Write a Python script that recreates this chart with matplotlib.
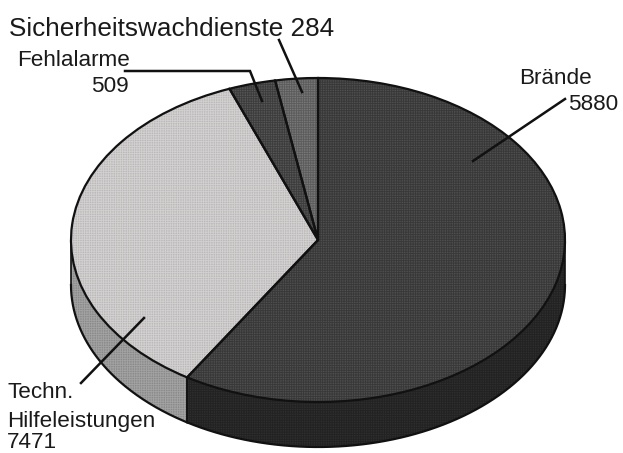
import numpy as np
import matplotlib
matplotlib.use("Agg")
import matplotlib.pyplot as plt

plt.rcParams['font.family'] = ['Liberation Sans', 'DejaVu Sans']
plt.rcParams['hatch.linewidth'] = 0.6

# slice sizes as drawn in the picture (degrees), clockwise from the top
categories = ["Brände", "Techn. Hilfeleistungen", "Fehlalarme", "Sicherheitswachdienste"]
drawn_degrees = [212, 127, 11, 10]
label_values = [5880, 7471, 509, 284]

top_colors = ["#4e4e4e", "#bdb9b9", "#565656", "#787878"]
hatch_colors = ["#383838", "#d2d0d0", "#3c3c3c", "#5c5c5c"]
wall_colors = ["#2e2e2e", "#8a8a8a", "#333333", "#555555"]
wall_hatch_colors = ["#222222", "#a2a2a2", "#222222", "#444444"]

W, H = 623, 453
CX, CY, RX, RY, DEPTH = 318, 240, 247, 162, 45


def main():
    fig = plt.figure(figsize=(W / 100, H / 100), dpi=100)

    # pie axes: unit circle squashed into the ellipse
    ax = fig.add_axes([0, 0, 1, 1])
    wedges, _ = ax.pie(drawn_degrees, startangle=90, counterclock=False, radius=1)
    ax.set_aspect('auto')
    ax.set_xlim(-CX / RX, (W - CX) / RX)
    ax.set_ylim((CY - H) / RY, CY / RY)
    ax.axis('off')

    # side wall, only the lower half of the rim is visible
    d = DEPTH / RY
    edges = 90 - np.cumsum([0] + drawn_degrees)
    for i in range(len(drawn_degrees)):
        hi, lo = min(edges[i], 0), max(edges[i + 1], -180)
        if hi <= lo:
            continue
        t = np.radians(np.linspace(lo, hi, 200))
        x, y = np.cos(t), np.sin(t)
        ax.fill_between(x, y - d, y, facecolor=wall_colors[i], hatch='+++++++',
                        edgecolor=wall_hatch_colors[i], linewidth=0, zorder=0.5)
        ax.plot(x, y - d, c='#111111', lw=1.6, zorder=0.6)
        ax.plot([x[0], x[0]], [y[0], y[0] - d], c='#111111', lw=1.2, zorder=0.6)
        ax.plot([x[-1], x[-1]], [y[-1], y[-1] - d], c='#111111', lw=1.2, zorder=0.6)

    for w, c, hc in zip(wedges, top_colors, hatch_colors):
        w.set_facecolor(c)
        w.set_edgecolor(hc)
        w.set_hatch('+++++++')
        w.set_linewidth(0)
        w.set_zorder(1)
        outline = plt.matplotlib.patches.Wedge(w.center, w.r, w.theta1, w.theta2, fill=False,
                                               edgecolor='#111111', linewidth=1.6, zorder=2)
        ax.add_patch(outline)

    # overlay in picture pixels for labels and leader lines
    ov = fig.add_axes([0, 0, 1, 1], facecolor='none')
    ov.set_xlim(0, W)
    ov.set_ylim(H, 0)
    ov.axis('off')

    leaders = [
        ([473, 565], [161, 99]),
        ([81, 144], [383, 318]),
        ([125, 250, 262], [71, 71, 101]),
        ([279, 302], [40, 92]),
    ]
    for xs, ys in leaders:
        ov.plot(xs, ys, c='#111111', lw=1.8, solid_joinstyle='miter')

    txt = dict(color='#1a1a1a', va='center')
    ov.text(9, 29, f"{categories[3]} {label_values[3]}", fontsize=18.8, ha='left', **txt)
    ov.text(17, 60, categories[2], fontsize=16.2, ha='left', **txt)
    ov.text(129, 86, str(label_values[2]), fontsize=16.2, ha='right', **txt)
    ov.text(519, 79, categories[0], fontsize=16.2, ha='left', **txt)
    ov.text(568, 105, str(label_values[0]), fontsize=16.2, ha='left', **txt)
    ov.text(7, 393, "Techn.", fontsize=16.2, ha='left', **txt)
    ov.text(7, 421, "Hilfeleistungen", fontsize=16.2, ha='left', **txt)
    ov.text(7, 443, str(label_values[1]), fontsize=16.2, ha='left', **txt)

    fig.savefig("out.png", dpi=100, facecolor='white')


if __name__ == "__main__":
    main()
